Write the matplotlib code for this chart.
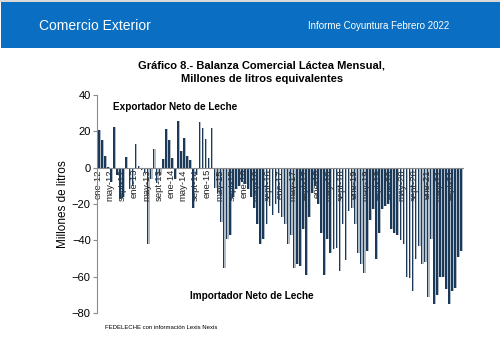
import matplotlib
matplotlib.use("Agg")
import matplotlib.pyplot as plt
from matplotlib.patches import Rectangle

plt.rcParams['font.family'] = ['Liberation Sans', 'DejaVu Sans']

# Saldo mensual de la balanza láctea (millones de litros equivalentes), ene-12 a dic-21
years = list(range(12, 22))
months = ['ene', 'feb', 'mar', 'abr', 'may', 'jun', 'jul', 'ago', 'sept', 'oct', 'nov', 'dic']
balance = [
    21, 15.5, 6.5, 0.5, -8, 22.5, -4, -17, -16, 6, -12, -10,            # 2012
    13, 1, -1.5, -3, -42, -6, 10.5, -8.5, -4, 5, 21.5, 15,             # 2013
    5.5, -6, 25.5, 9, 16.5, 6.5, 4, -22, -4, 25, 22, 16,               # 2014
    5.3, 21.7, -11, -14, -30, -55, -39, -37, -16, -12, -10, -8,        # 2015
    -9, -12, -16, -22, -31, -42, -39, -31, -21, -26, -20, -25,         # 2016
    -27, -31, -42, -37, -55, -53, -54, -34, -59, -27, -14, -10,        # 2017
    -20, -36, -59, -39, -47, -45, -44, -57, -31, -51, -24, -22,        # 2018
    -31, -47, -53, -58, -46, -29, -23, -50, -36, -23, -21, -20,        # 2019
    -34, -36, -37, -40, -42, -60, -61, -68, -50, -43, -53, -52,        # 2020
    -71, -39, -75, -70, -60, -60, -67, -75, -68, -66, -49, -46,        # 2021
]
tick_months = ['ene', 'may', 'sept']

labels = [f"{m}-{y}" for y in years for m in months]
x = list(range(len(balance)))

fig = plt.figure(figsize=(5.0, 3.39), dpi=100)
fig.patch.set_facecolor('white')

# franja azul del encabezado
fig.patches.append(Rectangle((0.002, 1 - 48 / 339), 0.998, 46 / 339,
                             transform=fig.transFigure, facecolor='#0a6fc2',
                             edgecolor='none', zorder=0))
fig.patches.append(Rectangle((0, 1 - 2 / 339), 1, 2 / 339, transform=fig.transFigure,
                             facecolor='#d9d9d9', edgecolor='none', zorder=0))
fig.text(39 / 500, 1 - 26 / 339, 'Comercio Exterior', color='white', fontsize=10,
         ha='left', va='center')
fig.text(308 / 500, 1 - 26 / 339, 'Informe Coyuntura Febrero 2022', color='white',
         fontsize=7, ha='left', va='center')

fig.text(262 / 500, 1 - 65 / 339, 'Gráfico 8.- Balanza Comercial Láctea Mensual,',
         fontsize=8, fontweight='bold', ha='center', va='center')
fig.text(262 / 500, 1 - 79 / 339, 'Millones de litros equivalentes',
         fontsize=8, fontweight='bold', ha='center', va='center')

ax = fig.add_axes([97 / 500, 1 - 313 / 339, 366 / 500, 218 / 339])

# barras: sombra gris, etiquetas de meses encima y barra azul al frente
ax.bar([v + 0.2 for v in x], balance, width=0.9, color='#b2bcc7', zorder=1)
for i, lab in enumerate(labels):
    if lab.split('-')[0] in tick_months:
        ax.text(i - 0.3, -0.8, lab, rotation=90, ha='center', va='top', fontsize=6.8,
                color='#222222', zorder=2)
ax.bar(x, balance, width=0.5, color='#1b3a5a', zorder=3)

ax.set_xlim(-0.6, len(balance) - 0.4)
ax.set_ylim(-80, 40)
ax.set_yticks(range(-80, 41, 20))
ax.set_xticks([])
ax.spines['top'].set_visible(False)
ax.spines['right'].set_visible(False)
ax.spines['bottom'].set_position(('data', 0))
ax.spines['bottom'].set_color('#8c8c8c')
ax.spines['bottom'].set_linewidth(0.8)
ax.spines['bottom'].set_zorder(4)
ax.spines['left'].set_color('#8c8c8c')
ax.spines['left'].set_linewidth(0.8)
ax.tick_params(axis='y', labelsize=8, length=3, width=0.8, color='#8c8c8c', pad=1.5)
ax.set_ylabel('Millones de litros', fontsize=8.5, labelpad=2)

ax.text(16 / 366 * 120.2 - 0.6, 33.5, 'Exportador Neto de Leche', fontsize=7.2,
        fontweight='bold', ha='left', va='center')
ax.text(93 / 366 * 120.2 - 0.6, -70.5, 'Importador Neto de Leche', fontsize=7.2,
        fontweight='bold', ha='left', va='center')

fig.text(105 / 500, 1 - 327.5 / 339, 'FEDELECHE con información Lexis Nexis',
         fontsize=4.3, ha='left', va='center')

fig.savefig('out.png', dpi=100)
